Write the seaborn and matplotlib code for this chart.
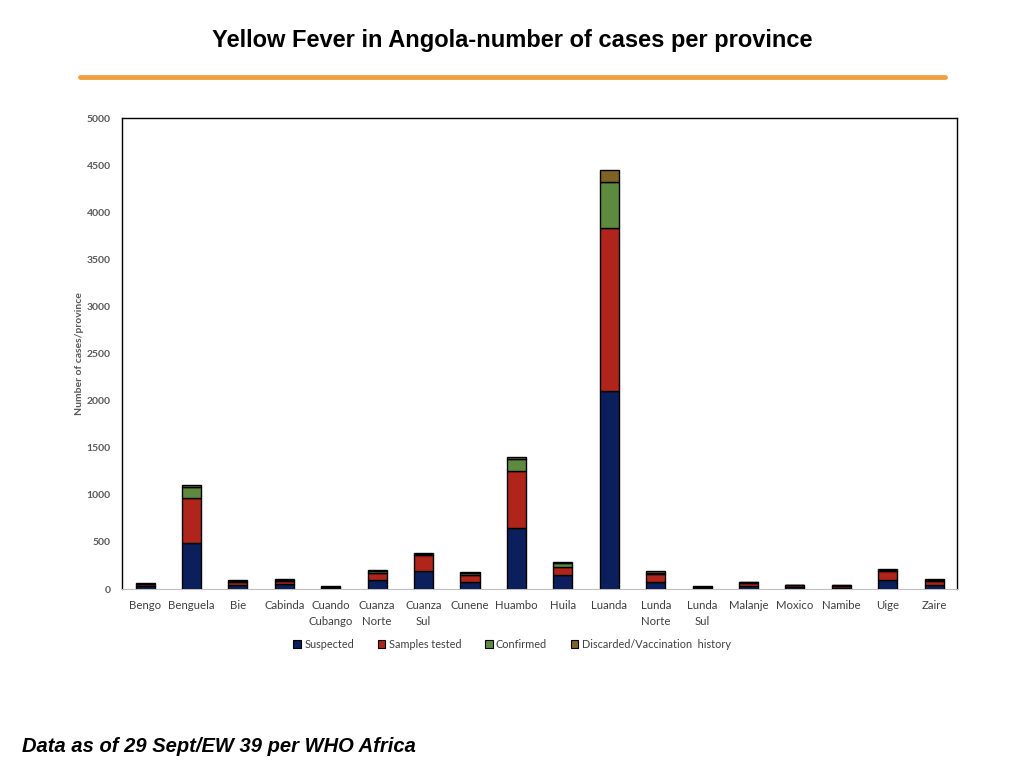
import pandas as pd
import matplotlib.pyplot as plt
import seaborn as sns
from matplotlib.patches import Patch

provinces = ["Bengo", "Benguela", "Bie", "Cabinda", "Cuando\nCubango", "Cuanza\nNorte",
             "Cuanza\nSul", "Cunene", "Huambo", "Huila", "Luanda", "Lunda\nNorte",
             "Lunda\nSul", "Malanje", "Moxico", "Namibe", "Uige", "Zaire"]
suspected = [30, 490, 39, 50, 15, 92, 188, 71, 645, 145, 2100, 75, 15, 32, 20, 15, 95, 40]
samples_tested = [22, 478, 32, 38, 10, 81, 176, 81, 605, 92, 1730, 80, 10, 35, 18, 22, 98, 43]
confirmed = [4, 113, 18, 6, 2, 16, 8, 14, 127, 42, 490, 18, 2, 3, 2, 2, 8, 10]
discarded = [8, 28, 7, 12, 5, 16, 10, 14, 22, 8, 130, 15, 5, 8, 3, 3, 10, 13]

series = {
    "Suspected": suspected,
    "Samples tested": samples_tested,
    "Confirmed": confirmed,
    "Discarded/Vaccination  history": discarded,
}
colors = ["#0B1F5C", "#B0251B", "#5E8A3F", "#7F6225"]

df = pd.DataFrame(series)
df["province"] = provinces

sns.set_style("white")
plt.rcParams["font.family"] = ["Lato", "DejaVu Sans"]

fig = plt.figure(figsize=(10.24, 7.68), dpi=100)
ax = fig.add_axes([0.119, 0.233, 0.816, 0.613])

bottom = pd.Series([0] * len(df))
for (name, vals), color in zip(series.items(), colors):
    sns.barplot(x=df["province"], y=df[name], bottom=bottom, color=color, saturation=1,
                width=0.41, edgecolor="black", linewidth=1.0, ax=ax)
    bottom = bottom + df[name]

ax.set_ylim(0, 5000)
ax.set_xlim(-0.5, len(provinces) - 0.5)
ax.set_yticks(range(0, 5001, 500))
ax.set_xlabel("")
ax.set_ylabel("Number of cases/province", fontsize=7.5, color="#595959",
              fontweight="bold", labelpad=2)
ax.tick_params(axis="y", length=0, labelsize=7.5, labelcolor="#595959", pad=8)
ax.tick_params(axis="x", length=0, labelsize=8.2, labelcolor="#404040", pad=8)
for lbl in ax.get_yticklabels():
    lbl.set_fontweight("bold")
for lbl in ax.get_xticklabels():
    lbl.set_linespacing(1.55)

for side in ["left", "top", "right"]:
    ax.spines[side].set_color("black")
    ax.spines[side].set_linewidth(1.0)
ax.spines["bottom"].set_color("#BFBFBF")

handles = [Patch(facecolor=c, edgecolor="black", linewidth=0.8) for c in colors]
fig.legend(handles, list(series.keys()), loc="center", bbox_to_anchor=(0.5, 1 - 644 / 768),
           ncol=4, frameon=False, fontsize=7.8, handlelength=0.7, handleheight=0.7,
           handletextpad=0.3, columnspacing=2.2, labelcolor="#404040")

fig.text(0.5, 0.947, "Yellow Fever in Angola-number of cases per province",
         ha="center", va="center", fontsize=17, fontweight="bold", color="black",
         family=["Liberation Sans", "DejaVu Sans"])
fig.add_artist(plt.Line2D([80 / 1024, 945 / 1024], [1 - 77 / 768] * 2,
                          color="#F0A040", linewidth=3.5))
fig.text(22 / 1024, 1 - 746 / 768, "Data as of 29 Sept/EW 39 per WHO Africa",
         ha="left", va="center", fontsize=14.5, fontweight="bold", style="italic",
         color="black", family=["Liberation Sans", "DejaVu Sans"])

fig.savefig("out.png", dpi=100)
